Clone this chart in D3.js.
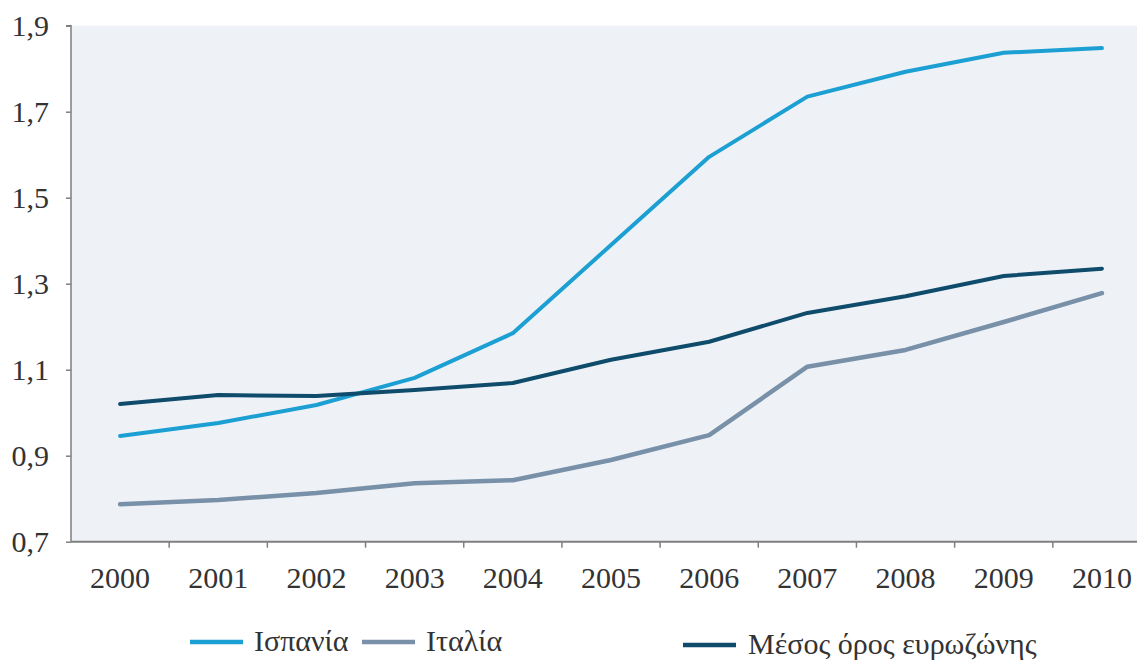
<!DOCTYPE html>
<html>
<head>
<meta charset="utf-8">
<script src="https://cdn.jsdelivr.net/npm/d3@7"></script>
<style>
  html, body { margin: 0; padding: 0; background: #fff; }
  svg { display: block; }
  text { font-family: "Liberation Serif", "DejaVu Serif", serif; fill: #333; }
</style>
</head>
<body>
<svg id="chart" width="1137" height="660"></svg>
<script>
// Years on the horizontal axis
const years = ["2000","2001","2002","2003","2004","2005","2006","2007","2008","2009","2010"];

// Series values
const spain = [0.946, 0.976, 1.018, 1.081, 1.185, 1.390, 1.595, 1.735, 1.793, 1.837, 1.848];
const italy = [0.787, 0.797, 0.813, 0.836, 0.843, 0.890, 0.948, 1.107, 1.146, 1.211, 1.278];
const euroArea = [1.020, 1.041, 1.039, 1.053, 1.069, 1.123, 1.165, 1.232, 1.271, 1.318, 1.335];

// Y axis tick values
const yTicks = [0.7, 0.9, 1.1, 1.3, 1.5, 1.7, 1.9];

const seriesNames = ["Ισπανία", "Ιταλία", "Μέσος όρος ευρωζώνης"];
const seriesColors = ["#1c9fd3", "#7890a8", "#0f4b6b"];
const seriesWidths = [4, 4.5, 4];

const series = [spain, italy, euroArea].map((values, i) => ({
  name: seriesNames[i], color: seriesColors[i], width: seriesWidths[i], values
}));

const svg = d3.select("#chart");
const plot = { left: 71, top: 25.7, bottom: 541.7, right: 1151 };

const x = d3.scaleBand().domain(years).range([plot.left, plot.right]).paddingInner(0).paddingOuter(0);
const y = d3.scaleLinear().domain([0.7, 1.9]).range([plot.bottom, plot.top]);

// Plot background
svg.append("rect")
  .attr("x", plot.left).attr("y", plot.top)
  .attr("width", plot.right - plot.left).attr("height", plot.bottom - plot.top)
  .attr("fill", "#eef2f6");

// Y axis
const fmt = d => d3.format(".1f")(d).replace(".", ",");
const yAxis = svg.append("g")
  .attr("transform", `translate(${plot.left},0)`)
  .call(d3.axisLeft(y).tickValues(yTicks).tickSize(5).tickPadding(17).tickFormat(fmt));
yAxis.selectAll("text").style("font-size", "30px").attr("fill", "#333");
yAxis.selectAll("line, path").attr("stroke", "#7f7f7f").attr("stroke-width", 1.5);
yAxis.select(".domain").attr("d", `M-5,${plot.top}H0V${plot.bottom}`);

// X axis: labels centred in bands, tick marks at band boundaries
const xAxis = svg.append("g")
  .attr("transform", `translate(0,${plot.bottom})`)
  .call(d3.axisBottom(x).tickSize(0).tickPadding(25));
xAxis.selectAll("text").style("font-size", "30px").attr("fill", "#333");
xAxis.select(".domain").attr("stroke", "#7f7f7f").attr("stroke-width", 2)
  .attr("d", `M${plot.left},0H${plot.right}`);
xAxis.selectAll(".boundary")
  .data(years.slice(1))
  .join("line")
  .attr("class", "boundary")
  .attr("x1", d => x(d)).attr("x2", d => x(d))
  .attr("y1", 0).attr("y2", 6)
  .attr("stroke", "#7f7f7f").attr("stroke-width", 1.5);

// Lines (straight segments between yearly points)
const line = d3.line()
  .x((d, i) => x(years[i]) + x.bandwidth() / 2)
  .y(d => y(d));

svg.append("g").selectAll("path")
  .data(series)
  .join("path")
  .attr("d", d => line(d.values))
  .attr("fill", "none")
  .attr("stroke", d => d.color)
  .attr("stroke-width", d => d.width)
  .attr("stroke-linecap", "round")
  .attr("stroke-linejoin", "round");

// Legend
const legendPos = [
  { lx: 190, tx: 254, ly: 642 },
  { lx: 362, tx: 426, ly: 642 },
  { lx: 683, tx: 748, ly: 645 }
];
const legend = svg.append("g").selectAll("g")
  .data(series)
  .join("g");
legend.append("line")
  .attr("x1", (d, i) => legendPos[i].lx)
  .attr("x2", (d, i) => legendPos[i].lx + 53)
  .attr("y1", (d, i) => legendPos[i].ly)
  .attr("y2", (d, i) => legendPos[i].ly)
  .attr("stroke", d => d.color)
  .attr("stroke-width", 4.5);
legend.append("text")
  .attr("x", (d, i) => legendPos[i].tx)
  .attr("y", (d, i) => legendPos[i].ly + 9)
  .style("font-size", "30px")
  .attr("fill", "#333")
  .text(d => d.name);
</script>
</body>
</html>
